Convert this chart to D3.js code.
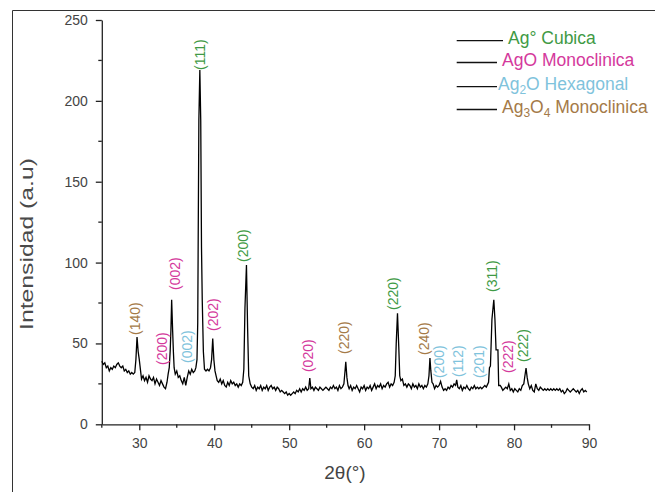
<!DOCTYPE html>
<html>
<head>
<meta charset="utf-8">
<script src="https://cdn.jsdelivr.net/npm/d3@7"></script>
<style>
  html, body { margin: 0; padding: 0; background: #fff; }
  svg { display: block; font-family: "Liberation Sans", Arial, sans-serif; }
</style>
</head>
<body>
<svg id="chart" width="655" height="492"></svg>
<script>
// XRD pattern: [2θ (degrees), intensity (a.u.)]
const pattern = [
  [25.0,39],[25.2,37],[25.4,38],[25.6,35],[25.8,36],[26.0,33],[26.2,35],[26.4,34],[26.6,36],[26.8,35],
  [27.0,37],[27.2,38],[27.4,36],[27.6,35],[27.8,36],[28.0,33],[28.2,34],[28.4,32],[28.6,33],[28.8,31],
  [29.0,32],[29.2,31],[29.4,32],[29.55,40],[29.7,54],[29.85,45],[30.0,40],[30.15,34],[30.3,28],[30.5,30],
  [30.7,27],[30.9,29],[31.1,26],[31.3,30],[31.5,28],[31.7,27],[31.9,29],[32.1,25],[32.3,28],[32.5,26],
  [32.7,24],[32.9,27],[33.1,25],[33.3,23],[33.5,22],[33.7,26],[33.85,31],[34.0,35],[34.12,45],[34.22,58],
  [34.32,77],[34.45,58],[34.55,45],[34.65,35],[34.8,31],[35.0,33],[35.2,29],[35.4,30],[35.6,27],[35.8,25],
  [36.0,29],[36.2,24],[36.4,29],[36.6,33],[36.8,31],[37.0,34],[37.2,32],[37.4,33],[37.55,35],[37.7,40],
  [37.8,63],[37.95,188],[38.08,219],[38.2,188],[38.3,110],[38.4,77],[38.55,45],[38.7,34],[38.9,33],[39.1,34],
  [39.3,33],[39.5,35],[39.65,40],[39.8,53],[39.95,40],[40.1,33],[40.25,30],[40.4,27],[40.6,26],[40.8,28],
  [41.0,25],[41.2,27],[41.4,24],[41.6,23],[41.8,26],[42.0,24],[42.2,27],[42.4,25],[42.6,26],[42.8,24],
  [43.0,25],[43.2,23],[43.4,25],[43.6,24],[43.8,26],[43.95,34],[44.1,72],[44.3,98.5],[44.45,60],[44.6,30],
  [44.8,25],[45.0,23],[45.2,22],[45.4,24],[45.6,21],[45.8,23],[46.0,22],[46.2,24],[46.4,21],[46.6,23],
  [46.8,22],[47.0,24],[47.2,21],[47.4,23],[47.6,24],[47.8,22],[48.0,23],[48.2,21],[48.4,23],[48.6,22],
  [48.8,20],[49.0,21],[49.2,20],[49.4,19],[49.6,20],[49.8,18],[50.0,19],[50.2,18],[50.4,19],[50.6,20],
  [50.8,19],[51.0,21],[51.2,20],[51.4,22],[51.6,20],[51.8,22],[52.0,21],[52.2,23],[52.4,21],[52.6,22],
  [52.75,28.6],[52.9,22],[53.1,23],[53.3,21],[53.5,23],[53.7,22],[53.9,21],[54.1,23],[54.3,22],[54.5,21],
  [54.7,22],[54.9,23],[55.1,22],[55.3,21],[55.5,23],[55.7,22],[55.9,24],[56.1,22],[56.3,23],[56.5,21],
  [56.7,24],[56.9,22],[57.1,23],[57.3,25],[57.45,33],[57.55,38.7],[57.7,29],[57.85,24],[58.0,22],[58.2,24],
  [58.4,21],[58.6,23],[58.8,22],[59.0,24],[59.2,22],[59.4,20],[59.6,23],[59.8,22],[60.0,24],[60.2,21],
  [60.4,23],[60.6,22],[60.8,24],[61.0,21],[61.2,23],[61.4,25],[61.6,22],[61.8,24],[62.0,23],[62.2,25],
  [62.4,22],[62.6,24],[62.8,23],[63.0,25],[63.2,26],[63.4,23],[63.6,25],[63.8,24],[64.0,26],[64.15,30],
  [64.28,50],[64.45,68.6],[64.62,48],[64.75,30],[64.9,27],[65.1,28],[65.3,24],[65.5,25],[65.7,23],[65.9,25],
  [66.1,24],[66.3,22],[66.5,25],[66.7,23],[66.9,24],[67.1,22],[67.3,25],[67.5,23],[67.7,24],[67.9,22],
  [68.1,24],[68.3,23],[68.5,25],[68.65,30],[68.78,41],[68.9,33],[69.05,26],[69.2,25],[69.4,22],[69.6,24],
  [69.8,23],[70.0,24],[70.2,26.5],[70.4,23],[70.6,21],[70.8,22],[71.0,21],[71.2,23],[71.4,22],[71.6,24],
  [71.8,23],[72.0,25],[72.2,24],[72.35,27.5],[72.5,23],[72.7,22],[72.9,24],[73.1,21],[73.3,23],[73.5,22],
  [73.7,24],[73.9,22],[74.1,21],[74.3,23],[74.5,22],[74.7,24],[74.9,22],[75.1,23],[75.3,22],[75.5,23],
  [75.7,22],[75.9,23],[76.1,24],[76.3,23],[76.5,25],[76.6,26],[76.72,35],[76.85,36],[77.05,65],[77.3,77],
  [77.45,65],[77.6,46],[77.85,46],[77.95,24],[78.15,24],[78.3,23],[78.5,21],[78.7,22],[78.9,23],[79.1,22],
  [79.3,25],[79.5,21],[79.7,22],[79.9,20],[80.1,22],[80.3,21],[80.5,20],[80.7,22],[80.9,21],[81.1,24],
  [81.3,25],[81.45,30],[81.6,34.8],[81.75,29],[81.9,25],[82.1,22],[82.3,24],[82.5,21],[82.7,20],[82.9,25],
  [83.1,22],[83.3,21],[83.5,23],[83.7,22],[83.9,21],[84.1,22],[84.3,21],[84.5,22],[84.7,21],[84.9,22],
  [85.1,21],[85.3,22],[85.5,21],[85.7,22],[85.9,21],[86.1,22],[86.3,20],[86.5,21],[86.7,19],[86.9,20],
  [87.1,22],[87.3,21],[87.5,20],[87.7,21],[87.9,22],[88.1,21],[88.3,20],[88.5,21],[88.7,19],[88.9,21],
  [89.1,22],[89.3,20],[89.5,21],[89.7,20]
];

// Crystalline phases (legend order)
const phases = ["Ag° Cubica", "AgO Monoclinica", "Ag2O Hexagonal", "Ag3O4 Monoclinica"];
const phaseColors = ["#3f9a45", "#d4399c", "#7fc3dc", "#a47a48"];

// Miller-index annotations: [label, phase index, 2θ, intensity at label base]
const reflections = [
  ["(140)", 3, 29.43, 55.2],
  ["(200)", 1, 32.99, 36.7],
  ["(002)", 1, 34.77, 83.1],
  ["(002)", 2, 36.33, 37.9],
  ["(111)", 0, 38.10, 219.1],
  ["(202)", 1, 39.80, 57.7],
  ["(200)", 0, 43.84, 100.4],
  ["(020)", 1, 52.55, 32.3],
  ["(220)", 3, 57.32, 43.5],
  ["(220)", 0, 63.85, 70.7],
  ["(240)", 3, 67.99, 42.9],
  ["(200)", 2, 69.99, 28.6],
  ["(112)", 2, 72.52, 29.3],
  ["(201)", 2, 75.32, 28.6],
  ["(311)", 0, 77.06, 81.8],
  ["(222)", 1, 79.20, 31.7],
  ["(222)", 0, 81.20, 38.6]
];

// Axis ticks
const xMajorTicks = [30, 40, 50, 60, 70, 80, 90];
const xMinorTicks = [25, 35, 45, 55, 65, 75, 85];
const yMajorTicks = [0, 50, 100, 150, 200, 250];
const yMinorTicks = [25, 75, 125, 175, 225];

const svg = d3.select("#chart");

// Outer frame (left and top edges)
svg.append("path")
  .attr("d", "M12.5,492 V10.5 H655")
  .attr("fill", "none").attr("stroke", "#333").attr("stroke-width", 1);

const x = d3.scaleLinear().domain([25, 90]).range([101.8, 589]);
const y = d3.scaleLinear().domain([0, 250]).range([424.3, 20]);

const axisColor = "#222";
const tickText = "#444";

// X axis
const gx = svg.append("g").attr("transform", `translate(0,${y(0)})`);
gx.call(d3.axisBottom(x).tickValues(xMajorTicks).tickSize(6).tickSizeOuter(0).tickPadding(8).tickFormat(d3.format("d")));
gx.selectAll(".minor").data(xMinorTicks).enter().append("line")
  .attr("class", "minor").attr("x1", d => x(d)).attr("x2", d => x(d)).attr("y1", 0).attr("y2", 3.5);

// Y axis
const gy = svg.append("g").attr("transform", `translate(${x(25)},0)`);
gy.call(d3.axisLeft(y).tickValues(yMajorTicks).tickSize(6).tickSizeOuter(0).tickPadding(8).tickFormat(d3.format("d")));
gy.selectAll(".minor").data(yMinorTicks).enter().append("line")
  .attr("class", "minor").attr("y1", d => y(d)).attr("y2", d => y(d)).attr("x1", 0).attr("x2", -3.5);

[gx, gy].forEach(g => {
  g.select(".domain").attr("stroke", axisColor).attr("stroke-width", 1.3);
  g.selectAll("line").attr("stroke", axisColor).attr("stroke-width", 1.3);
  g.selectAll("text").attr("fill", tickText).attr("font-size", 14)
    .attr("font-family", "'Liberation Sans', Arial, sans-serif");
});

// Axis titles
svg.append("text")
  .attr("x", 345).attr("y", 479)
  .attr("text-anchor", "middle").attr("font-size", 19).attr("fill", "#444")
  .text("2θ(°)");

svg.append("text")
  .attr("transform", "translate(33,244) rotate(-90)")
  .attr("text-anchor", "middle").attr("font-size", 18).attr("fill", "#4a4a4a")
  .attr("textLength", 172).attr("lengthAdjust", "spacingAndGlyphs")
  .text("Intensidad (a.u)");

// Diffraction pattern
const line = d3.line().x(d => x(d[0])).y(d => y(d[1]));
svg.append("path")
  .datum(pattern)
  .attr("d", line)
  .attr("fill", "none")
  .attr("stroke", "#000")
  .attr("stroke-width", 1.3)
  .attr("stroke-linejoin", "miter");

// Reflection labels (vertical text, reading upward)
svg.append("g").selectAll("text")
  .data(reflections).enter().append("text")
  .attr("transform", d => `translate(${x(d[2])},${y(d[3])}) rotate(-90)`)
  .attr("dy", "0.35em")
  .attr("font-size", 14)
  .attr("fill", d => phaseColors[d[1]])
  .text(d => d[0]);

// Legend
const legendRows = [40.7, 62.5, 86.7, 109.5];
const legendTextX = [508, 502, 498, 502];
const lg = svg.append("g");
phases.forEach((p, i) => {
  lg.append("line")
    .attr("x1", 456.7).attr("x2", legendTextX[i] - 5 + (i === 2 ? 4 : 0))
    .attr("y1", legendRows[i]).attr("y2", legendRows[i])
    .attr("stroke", "#111").attr("stroke-width", 1.3);
  const t = lg.append("text")
    .attr("x", legendTextX[i]).attr("y", legendRows[i] - 3)
    .attr("dy", "0.35em")
    .attr("font-size", 17.5)
    .attr("fill", phaseColors[i]);
  // chemical formulas with subscripts
  const m = p.match(/^(Ag)(\d?)(O?)(\d?)(.*)$/);
  if (p.startsWith("Ag°")) {
    t.text(p);
  } else {
    t.append("tspan").text(m[1]);
    if (m[2]) t.append("tspan").attr("font-size", 12).attr("dy", 4).text(m[2]);
    t.append("tspan").attr("dy", m[2] ? -4 : 0).text(m[3]);
    if (m[4]) t.append("tspan").attr("font-size", 12).attr("dy", 4).text(m[4]);
    t.append("tspan").attr("dy", m[4] ? -4 : 0).text(m[5]);
  }
});
</script>
</body>
</html>
